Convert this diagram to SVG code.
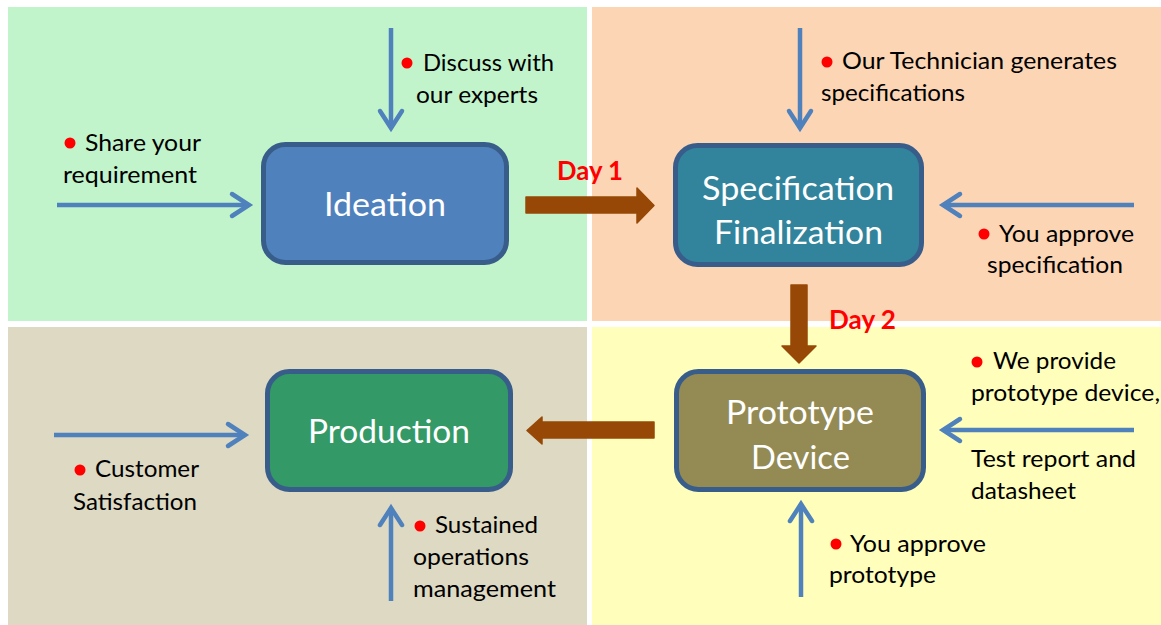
<svg xmlns="http://www.w3.org/2000/svg" width="1161" height="625" viewBox="0 0 1161 625">
<style>
.lbl{font-family:Lato,"Liberation Sans",sans-serif;font-size:24px;fill:#000}
.box{font-family:Lato,"Liberation Sans",sans-serif;font-size:33px;fill:#fff;text-anchor:middle}
.day{font-family:Lato,"Liberation Sans",sans-serif;font-size:27px;font-weight:bold;fill:#ff0000}
.bul{fill:#ff0000}
.flow{stroke:#4f81bd;stroke-width:4.5;fill:none;marker-end:url(#chev)}
.brown{fill:#974806;stroke:#974806;stroke-width:1.5;stroke-linejoin:round}
.node{stroke:#385d8a;stroke-width:5}
</style>
<defs>
<marker id="chev" markerUnits="userSpaceOnUse" markerWidth="40" markerHeight="40" viewBox="-25 -20 35 40" refX="0" refY="0" orient="auto" overflow="visible">
<path d="M-17,-11 L0,0 L-17,11" fill="none" stroke="#4f81bd" stroke-width="4.5" stroke-linejoin="miter" stroke-linecap="round"/>
</marker>
</defs>
<rect width="1161" height="625" fill="#ffffff"/>
<g id="quadrants">
<rect x="8" y="7" width="579" height="314" fill="#c2f4cc"/>
<rect x="592" y="7" width="569" height="314" fill="#fcd5b5"/>
<rect x="8" y="327" width="579" height="298" fill="#ddd9c3"/>
<rect x="592" y="327" width="569" height="298" fill="#ffffbb"/>
</g>
<g id="connectors">
<line class="flow" x1="391" y1="28" x2="391" y2="128"/>
<line class="flow" x1="57" y1="205" x2="249" y2="205"/>
<line class="flow" x1="800" y1="28" x2="800" y2="128"/>
<line class="flow" x1="1134" y1="205" x2="943" y2="205"/>
<line class="flow" x1="1134" y1="430" x2="943" y2="430"/>
<line class="flow" x1="801" y1="597" x2="801" y2="504"/>
<line class="flow" x1="54" y1="435" x2="245" y2="435"/>
<line class="flow" x1="391" y1="601" x2="391" y2="508"/>
<polygon class="brown" points="526,197 637,197 637,188 654,205.5 637,223 637,213 526,213"/>
<polygon class="brown" points="791,285 807,285 807,346 816,346 799,363 782,346 791,346"/>
<polygon class="brown" points="654,422 542,422 542,417 527,430.5 542,444 542,438 654,438"/>
</g>
<g id="ideation">
<rect class="node" x="263.5" y="144.5" width="243" height="118" rx="22" fill="#4f81bd"/>
<text class="box" x="385" y="216" textLength="122" lengthAdjust="spacingAndGlyphs">Ideation</text>
</g>
<g id="specification">
<rect class="node" x="675.5" y="145.5" width="246" height="119" rx="22" fill="#31849b"/>
<text class="box" x="798" y="200" textLength="192" lengthAdjust="spacingAndGlyphs">Specification</text>
<text class="box" x="798.5" y="244" textLength="169" lengthAdjust="spacingAndGlyphs">Finalization</text>
</g>
<g id="prototype">
<rect class="node" x="676.5" y="371.5" width="247" height="118" rx="22" fill="#948a54"/>
<text class="box" x="800" y="424" textLength="148" lengthAdjust="spacingAndGlyphs">Prototype</text>
<text class="box" x="800.5" y="469" textLength="99" lengthAdjust="spacingAndGlyphs">Device</text>
</g>
<g id="production">
<rect class="node" x="267.5" y="371.5" width="243" height="118" rx="22" fill="#339966"/>
<text class="box" x="389" y="443" textLength="162" lengthAdjust="spacingAndGlyphs">Production</text>
</g>
<g id="day-labels">
<text class="day" x="557" y="180" textLength="66" lengthAdjust="spacingAndGlyphs">Day 1</text>
<text class="day" x="829" y="329" textLength="67" lengthAdjust="spacingAndGlyphs">Day 2</text>
</g>
<g id="labels">
<circle class="bul" cx="407" cy="63" r="5.5"/>
<text class="lbl" x="423" y="71" textLength="131" lengthAdjust="spacingAndGlyphs">Discuss with</text>
<text class="lbl" x="416" y="103" textLength="122" lengthAdjust="spacingAndGlyphs">our experts</text>
<circle class="bul" cx="70" cy="143" r="5.5"/>
<text class="lbl" x="85" y="151" textLength="116" lengthAdjust="spacingAndGlyphs">Share your</text>
<text class="lbl" x="63" y="183" textLength="134" lengthAdjust="spacingAndGlyphs">requirement</text>
<circle class="bul" cx="827" cy="62" r="5.5"/>
<text class="lbl" x="842" y="69" textLength="275" lengthAdjust="spacingAndGlyphs">Our Technician generates</text>
<text class="lbl" x="821" y="101" textLength="144" lengthAdjust="spacingAndGlyphs">specifications</text>
<circle class="bul" cx="984" cy="234" r="5.5"/>
<text class="lbl" x="999" y="242" textLength="135" lengthAdjust="spacingAndGlyphs">You approve</text>
<text class="lbl" x="987" y="273" textLength="136" lengthAdjust="spacingAndGlyphs">specification</text>
<circle class="bul" cx="80" cy="470" r="5.5"/>
<text class="lbl" x="95" y="477" textLength="104" lengthAdjust="spacingAndGlyphs">Customer</text>
<text class="lbl" x="73" y="510" textLength="124" lengthAdjust="spacingAndGlyphs">Satisfaction</text>
<circle class="bul" cx="420" cy="526" r="5.5"/>
<text class="lbl" x="435" y="533" textLength="103" lengthAdjust="spacingAndGlyphs">Sustained</text>
<text class="lbl" x="413" y="565" textLength="116" lengthAdjust="spacingAndGlyphs">operations</text>
<text class="lbl" x="413" y="597" textLength="143" lengthAdjust="spacingAndGlyphs">management</text>
<circle class="bul" cx="977" cy="362" r="5.5"/>
<text class="lbl" x="993" y="369" textLength="123" lengthAdjust="spacingAndGlyphs">We provide</text>
<text class="lbl" x="971" y="401" textLength="189" lengthAdjust="spacingAndGlyphs">prototype device,</text>
<text class="lbl" x="971" y="467" textLength="165" lengthAdjust="spacingAndGlyphs">Test report and</text>
<text class="lbl" x="971" y="499" textLength="105" lengthAdjust="spacingAndGlyphs">datasheet</text>
<circle class="bul" cx="836" cy="544" r="5.5"/>
<text class="lbl" x="850" y="552" textLength="136" lengthAdjust="spacingAndGlyphs">You approve</text>
<text class="lbl" x="829" y="583" textLength="107" lengthAdjust="spacingAndGlyphs">prototype</text>
</g>
</svg>
